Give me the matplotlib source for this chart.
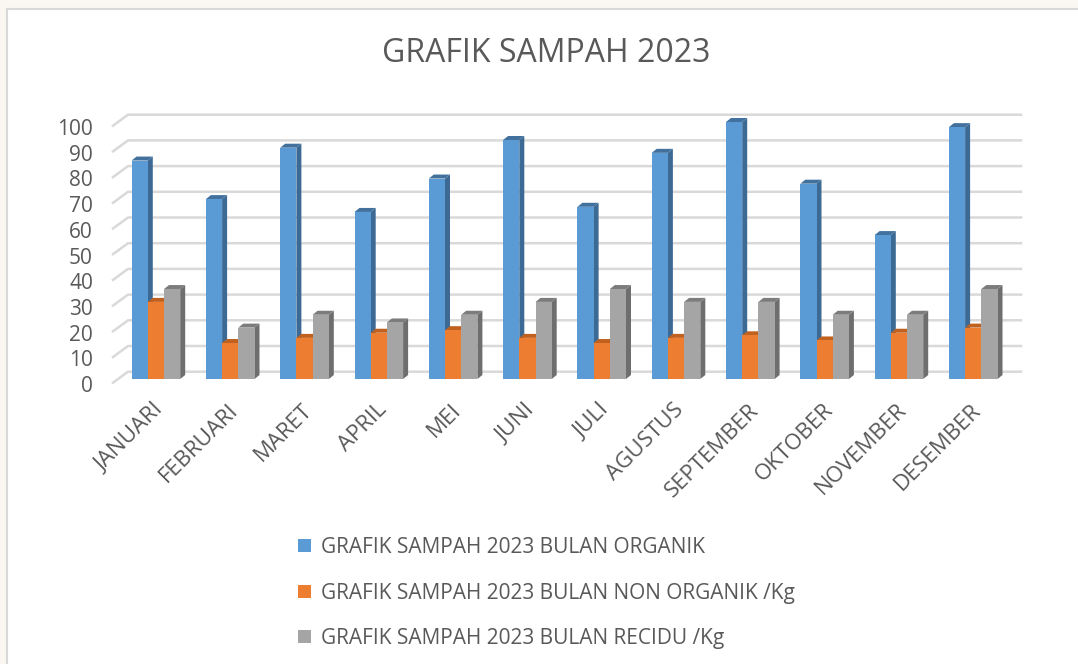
import matplotlib
matplotlib.use("Agg")
import matplotlib.pyplot as plt
from matplotlib.patches import Polygon, Rectangle
from matplotlib.lines import Line2D
from matplotlib.transforms import ScaledTranslation

plt.rcParams['font.family'] = ['Open Sans', 'DejaVu Sans']

months = ["JANUARI", "FEBRUARI", "MARET", "APRIL", "MEI", "JUNI", "JULI",
          "AGUSTUS", "SEPTEMBER", "OKTOBER", "NOVEMBER", "DESEMBER"]
organik = [85, 70, 90, 65, 78, 93, 67, 88, 100, 76, 56, 98]
non_organik = [30, 14, 16, 18, 19, 16, 14, 16, 17, 15, 18, 20]
recidu = [35, 20, 25, 22, 25, 30, 35, 30, 30, 25, 25, 35]
series_names = ["GRAFIK SAMPAH 2023 BULAN ORGANIK",
                "GRAFIK SAMPAH 2023 BULAN NON ORGANIK /Kg",
                "GRAFIK SAMPAH 2023 BULAN RECIDU /Kg"]
title = "GRAFIK SAMPAH 2023"
yticks = [0, 10, 20, 30, 40, 50, 60, 70, 80, 90, 100]

front_colors = ["#5B9BD5", "#ED7D31", "#A5A5A5"]
side_colors = ["#3C6A94", "#B55A1C", "#6E6E6E"]
top_colors = ["#41719C", "#C0611F", "#7C7C7C"]
text_color = "#595959"

W, H = 1078, 664
fig = plt.figure(figsize=(W / 100, H / 100), dpi=100)
fig.patch.set_facecolor("#FAF7F2")
# white chart area with light border
fig.patches.append(Rectangle((7 / W, -0.01), 1.01 - 7 / W, 1.01 - 9 / H, transform=fig.transFigure,
                             facecolor="white", edgecolor="#D9D9D9", linewidth=1.5, zorder=-5))

# axes geometry in pixels
px_left, px_right = 113, 1021
px_y0, px_y100 = 379, 122
cat_px = 74.3
center0 = 155.9
ax = fig.add_axes([px_left / W, (H - px_y0) / H, (px_right - px_left) / W, (px_y0 - px_y100) / H])
ax.set_zorder(2)
ax.set_facecolor("none")
ax.set_xlim((px_left - center0) / cat_px, (px_right - center0) / cat_px)
ax.set_ylim(0, 100)
for s in ax.spines.values():
    s.set_visible(False)

ypx = (px_y0 - px_y100) / 100.0  # pixels per value unit

# gridlines (back plane) with diagonal at left
back_dx = (128 - px_left) / cat_px
back_dy = 7.3 / ypx
front_drop = 3.7 / ypx
x_front_left = ax.get_xlim()[0]
x_back_left = x_front_left + back_dx
x_back_right = ax.get_xlim()[1]
for v in yticks:
    ax.add_line(Line2D([x_front_left, x_back_left, x_back_right],
                       [v - front_drop, v + back_dy, v + back_dy],
                       color="#D9D9D9", linewidth=1.8, clip_on=False, zorder=1))

# bars
bw = 16.2 / cat_px
ddx = 5.0 / cat_px
ddy = 4.0 / ypx
data = [organik, non_organik, recidu]
for si, vals in enumerate(data):
    for i, v in enumerate(vals):
        xc = i + (si - 1) * bw
        xl, xr = xc - bw / 2, xc + bw / 2
        z = 3 + si
        ax.add_patch(Polygon([(xr, 0), (xr + ddx, ddy), (xr + ddx, v + ddy), (xr, v)],
                             closed=True, facecolor=side_colors[si], edgecolor="none",
                             clip_on=False, zorder=z))
        ax.add_patch(Polygon([(xl, v), (xl + ddx, v + ddy), (xr + ddx, v + ddy), (xr, v)],
                             closed=True, facecolor=top_colors[si], edgecolor="none",
                             clip_on=False, zorder=z))
    ax.bar([i + (si - 1) * bw for i in range(len(vals))], vals, width=bw,
           color=front_colors[si], edgecolor="none", zorder=3 + si + 0.5,
           label=series_names[si], clip_on=False)

# y tick labels
ax.set_yticks(yticks)
ax.set_yticklabels([str(v) for v in yticks])
ax.tick_params(axis="y", length=0, pad=20 * 72 / 100, labelsize=15, labelcolor=text_color)
for lab in ax.get_yticklabels():
    lab.set_transform(lab.get_transform() + ScaledTranslation(0, -5 / 100, fig.dpi_scale_trans))

# x tick labels
ax.set_xticks(range(len(months)))
ax.set_xticklabels(months, rotation=45, ha="right", va="center", rotation_mode="anchor")
ax.tick_params(axis="x", length=0, pad=0, labelsize=16, labelcolor=text_color)
for lab in ax.get_xticklabels():
    lab.set_transform(lab.get_transform() + ScaledTranslation(5 / 100, -28 / 100, fig.dpi_scale_trans))

# title
fig.text(546.5 / W, 1 - 54 / H, title, ha="center", va="center", fontsize=23, color=text_color)

# legend
handles, labels = ax.get_legend_handles_labels()
leg = fig.legend(handles, labels, loc="upper left", bbox_to_anchor=(298 / W, 1 - 537 / H),
                 frameon=False, fontsize=15, labelcolor=text_color,
                 handlelength=0.6, handleheight=0.6, handletextpad=0.5,
                 labelspacing=1.18, borderpad=0, borderaxespad=0)

fig.savefig("out.png", dpi=100, facecolor=fig.get_facecolor())
